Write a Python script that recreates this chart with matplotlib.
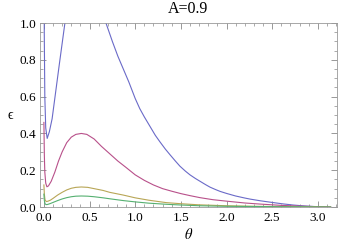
import matplotlib
matplotlib.use('Agg')
import matplotlib.pyplot as plt
from matplotlib.ticker import MultipleLocator

# values (theta, epsilon)
theta_blue = [0.0, 0.004, 0.01, 0.02, 0.036, 0.06, 0.09, 0.13, 0.17, 0.23, 0.27, 0.32,
              0.6, 0.68, 0.75, 0.81, 0.87, 0.93, 1.0, 1.05, 1.1, 1.16, 1.22, 1.27, 1.33,
              1.38, 1.44, 1.49, 1.55, 1.6, 1.66, 1.71, 1.77, 1.82, 1.88, 1.93, 2.0, 2.1,
              2.2, 2.26, 2.37, 2.5, 2.62, 2.73, 2.85, 2.95, 3.05, 3.14]
eps_blue = [5.0, 0.95, 0.6, 0.43, 0.373, 0.41, 0.48, 0.63, 0.78, 1.0, 1.15, 1.35,
            1.25, 1.0, 0.9, 0.82, 0.75, 0.68, 0.59, 0.535, 0.49, 0.44, 0.39, 0.355, 0.315,
            0.285, 0.25, 0.222, 0.195, 0.175, 0.155, 0.14, 0.122, 0.108, 0.095, 0.085, 0.074, 0.06,
            0.049, 0.043, 0.034, 0.025, 0.017, 0.011, 0.006, 0.003, 0.001, 0.0]

theta_pink = [0.0, 0.005, 0.01, 0.02, 0.033, 0.05, 0.08, 0.12, 0.16, 0.2, 0.25, 0.3, 0.35,
              0.41, 0.47, 0.55, 0.63, 0.72, 0.81, 0.9, 1.0, 1.1, 1.2, 1.3, 1.4, 1.5, 1.6,
              1.71, 1.85, 2.0, 2.2, 2.37, 2.6, 2.8, 3.0, 3.14]
eps_pink = [0.46, 0.28, 0.19, 0.13, 0.11, 0.115, 0.14, 0.19, 0.25, 0.30, 0.35, 0.38, 0.395,
            0.40, 0.395, 0.37, 0.33, 0.29, 0.25, 0.215, 0.175, 0.145, 0.12, 0.1, 0.086, 0.073, 0.062,
            0.051, 0.04, 0.032, 0.022, 0.016, 0.009, 0.005, 0.002, 0.0]

theta_yellow = [0.0, 0.005, 0.012, 0.025, 0.04, 0.07, 0.1, 0.15, 0.2, 0.25, 0.3, 0.35, 0.41,
                0.48, 0.55, 0.65, 0.72, 0.87, 1.0, 1.15, 1.34, 1.5, 1.7, 2.0, 2.3, 2.7, 3.14]
eps_yellow = [0.12, 0.07, 0.04, 0.03, 0.031, 0.037, 0.047, 0.065, 0.08, 0.093, 0.102, 0.107, 0.109,
              0.107, 0.1, 0.09, 0.08, 0.065, 0.05, 0.037, 0.024, 0.018, 0.012, 0.007, 0.004, 0.002, 0.0]

theta_green = [0.0, 0.005, 0.012, 0.025, 0.04, 0.07, 0.1, 0.15, 0.2, 0.25, 0.3, 0.35, 0.41,
               0.48, 0.55, 0.65, 0.72, 0.87, 1.0, 1.15, 1.34, 1.5, 1.7, 2.0, 2.5, 3.14]
eps_green = [0.07, 0.035, 0.018, 0.013, 0.014, 0.019, 0.025, 0.035, 0.044, 0.051, 0.056, 0.059, 0.06,
             0.059, 0.056, 0.05, 0.045, 0.035, 0.028, 0.021, 0.015, 0.011, 0.007, 0.004, 0.002, 0.0]

plt.rcParams['font.family'] = ['Liberation Serif', 'DejaVu Serif']
plt.rcParams['mathtext.fontset'] = 'stix'

fig = plt.figure(figsize=(3.38, 2.43), dpi=100)
ax = fig.add_axes([0.118, 0.148, 0.879, 0.757])

ax.plot(theta_blue, eps_blue, color='#6a6ac8', lw=0.8)
ax.plot(theta_pink, eps_pink, color='#b8508a', lw=0.8)
ax.plot(theta_yellow, eps_yellow, color='#b8a656', lw=0.8)
ax.plot(theta_green, eps_green, color='#55b070', lw=0.8)

ax.set_xlim(-0.044, 3.21)
ax.set_ylim(0, 1.0)
ax.xaxis.set_major_locator(MultipleLocator(0.5))
ax.xaxis.set_minor_locator(MultipleLocator(0.1))
ax.yaxis.set_major_locator(MultipleLocator(0.2))
ax.yaxis.set_minor_locator(MultipleLocator(0.05))
ax.xaxis.set_major_formatter(plt.FuncFormatter(lambda v, p: f'{v:.1f}'))
ax.yaxis.set_major_formatter(plt.FuncFormatter(lambda v, p: f'{v:.1f}'))

ax.tick_params(which='both', direction='in', top=True, right=True, labelsize=9.5,
               color='#888888')
ax.tick_params(axis='x', pad=3.5)
ax.tick_params(axis='y', pad=2.5)
ax.tick_params(which='major', length=4, width=0.6)
ax.tick_params(which='minor', length=2, width=0.5)
for s in ax.spines.values():
    s.set_color('#999999')
    s.set_linewidth(0.6)

ax.set_title('A=0.9', fontsize=11.5, pad=7)
ax.set_xlabel(r'$\theta$', fontsize=10.5, labelpad=2)
ax.set_ylabel('ϵ', fontsize=10, rotation=0, labelpad=7, va='center')

fig.savefig('out.png', dpi=100)
